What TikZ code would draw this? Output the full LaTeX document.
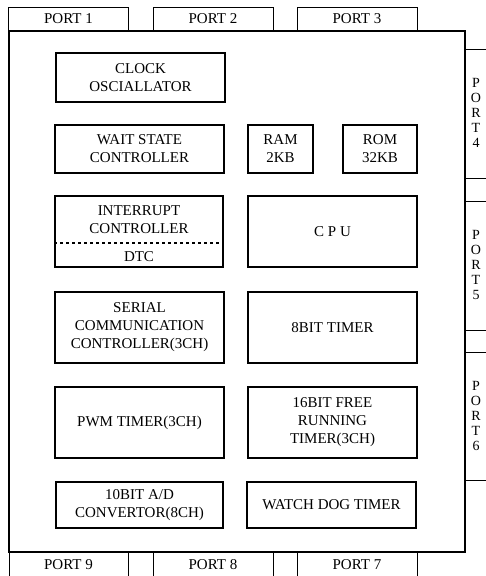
\documentclass[tikz,border=0pt]{standalone}
\usepackage{fontspec}
\setmainfont{Liberation Serif}
\begin{document}
\begin{tikzpicture}[x=1pt,y=-1pt,font=\fontsize{15}{18}\selectfont,
  blk/.style={draw,line width=1.4pt,align=center,inner sep=0pt},
  portbox/.style={draw,line width=1pt,align=center,inner sep=0pt,minimum width=120pt,minimum height=24pt}]
\useasboundingbox (0,0) rectangle (486,576);
% chip outline
\draw[line width=1.2pt] (9,31) rectangle (465,552);
% top ports
\node[portbox] (p1) at (68.5,19) {PORT 1};
\node[portbox] (p2) at (213,19) {PORT 2};
\node[portbox] (p3) at (357,19) {PORT 3};
% bottom ports (run off the page)
\draw[line width=1pt] (9,576)--(9,552)--(128,552)--(128,576);
\draw[line width=1pt] (153,576)--(153,552)--(273,552)--(273,576);
\draw[line width=1pt] (297,576)--(297,552)--(417,552)--(417,576);
\node (p9) at (68.5,565) {PORT 9};
\node (p8) at (213,565) {PORT 8};
\node (p7) at (357,565) {PORT 7};
% right ports
\draw[line width=1pt] (486,49)--(465,49) (465,178)--(486,178);
\draw[line width=1pt] (486,201)--(465,201) (465,330)--(486,330);
\draw[line width=1pt] (486,352)--(465,352) (465,480)--(486,480);
\node[align=center,font=\fontsize{14}{15}\selectfont] (p4) at (476,113) {P\\O\\R\\T\\4};
\node[align=center,font=\fontsize{14}{15}\selectfont] (p5) at (476,265) {P\\O\\R\\T\\5};
\node[align=center,font=\fontsize{14}{15}\selectfont] (p6) at (476,416) {P\\O\\R\\T\\6};
% blocks
\node[blk,minimum width=169pt,minimum height=49pt] (clk) at (140.5,77.5) {CLOCK\\OSCIALLATOR};
\node[blk,minimum width=169pt,minimum height=48pt] (wait) at (139.5,149) {WAIT STATE\\CONTROLLER};
\node[blk,minimum width=65pt,minimum height=48pt] (ram) at (280.5,149) {RAM\\2KB};
\node[blk,minimum width=74pt,minimum height=48pt] (rom) at (380,149) {ROM\\32KB};
\node[blk,minimum width=168pt,minimum height=71pt] (intr) at (139,231.5) {};
\node (intrtxt) at (139,220) [align=center] {INTERRUPT\\CONTROLLER};
\node (dtc) at (139,257) {DTC};
\draw[line width=1.2pt,dash pattern=on 3pt off 3pt] (intr.west |- 0,243) -- (intr.east |- 0,243);
\node[blk,minimum width=169pt,minimum height=71pt] (cpu) at (332.5,231.5) {C P U};
\node[blk,minimum width=169pt,minimum height=71pt] (sci) at (139.5,327.5) {SERIAL\\COMMUNICATION\\CONTROLLER(3CH)};
\node[blk,minimum width=169pt,minimum height=71pt] (tmr8) at (332.5,327.5) {8BIT TIMER};
\node[blk,minimum width=169pt,minimum height=71pt] (pwm) at (139.5,422.5) {PWM TIMER(3CH)};
\node[blk,minimum width=169pt,minimum height=71pt] (frt) at (332.5,422.5) {16BIT FREE\\RUNNING\\TIMER(3CH)};
\node[blk,minimum width=167pt,minimum height=46pt] (adc) at (139.5,505) {10BIT A/D\\CONVERTOR(8CH)};
\node[blk,minimum width=169pt,minimum height=46pt] (wdt) at (331.5,505) {WATCH DOG TIMER};
\end{tikzpicture}
\end{document}
